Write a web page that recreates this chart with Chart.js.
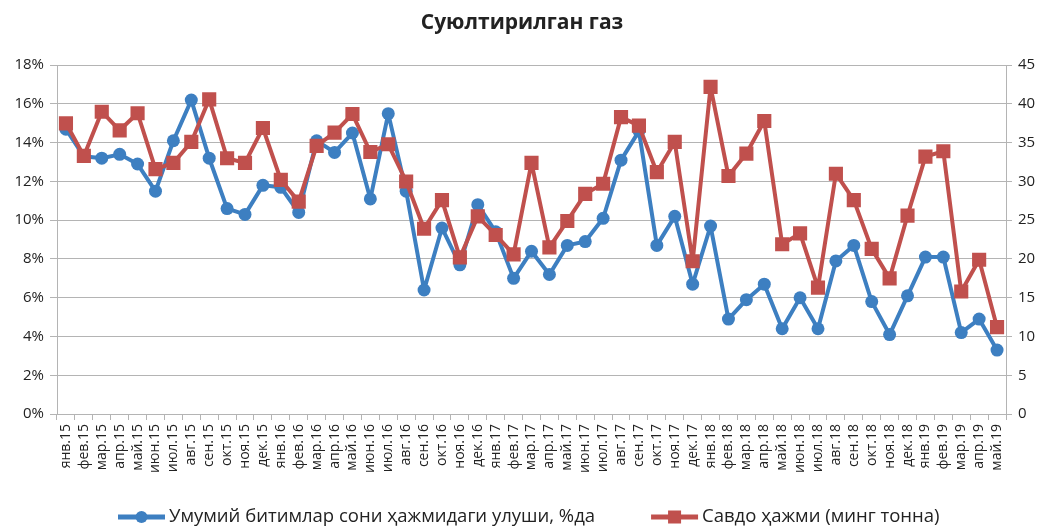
<!DOCTYPE html>
<html>
<head>
<meta charset="utf-8">
<script src="https://cdn.jsdelivr.net/npm/chart.js@4/dist/chart.umd.min.js"></script>
<style>
  html, body { margin: 0; padding: 0; background: #fff; }
  #wrap { width: 1044px; height: 526px; }
</style>
</head>
<body>
<div id="wrap"><canvas id="chartGas"></canvas></div>
<script>
const months = [
  "янв.15", "фев.15", "мар.15", "апр.15", "май.15", "июн.15", "июл.15", "авг.15", "сен.15", "окт.15", "ноя.15", "дек.15",
  "янв.16", "фев.16", "мар.16", "апр.16", "май.16", "июн.16", "июл.16", "авг.16", "сен.16", "окт.16", "ноя.16", "дек.16",
  "янв.17", "фев.17", "мар.17", "апр.17", "май.17", "июн.17", "июл.17", "авг.17", "сен.17", "окт.17", "ноя.17", "дек.17",
  "янв.18", "фев.18", "мар.18", "апр.18", "май.18", "июн.18", "июл.18", "авг.18", "сен.18", "окт.18", "ноя.18", "дек.18",
  "янв.19", "фев.19", "мар.19", "апр.19", "май.19"
];

// share of total deals, % (left axis)
const shareValues = [
  14.7, 13.3, 13.2, 13.4, 12.9, 11.5, 14.1, 16.2, 13.2, 10.6, 10.3, 11.8,
  11.7, 10.4, 14.1, 13.5, 14.5, 11.1, 15.5, 11.5, 6.4, 9.6, 7.7, 10.8,
  9.4, 7.0, 8.4, 7.2, 8.7, 8.9, 10.1, 13.1, 14.6, 8.7, 10.2, 6.7,
  9.7, 4.9, 5.9, 6.7, 4.4, 6.0, 4.4, 7.9, 8.7, 5.8, 4.1, 6.1,
  8.1, 8.1, 4.2, 4.9, 3.3
];

// trade volume, thousand tonnes (right axis)
const volumeValues = [
  37.5, 33.3, 39.0, 36.6, 38.8, 31.6, 32.4, 35.1, 40.6, 33.0, 32.4, 36.9,
  30.2, 27.4, 34.6, 36.3, 38.7, 33.8, 34.8, 30.0, 23.9, 27.6, 20.2, 25.5,
  23.1, 20.6, 32.4, 21.5, 24.9, 28.4, 29.7, 38.3, 37.2, 31.2, 35.1, 19.7,
  42.2, 30.7, 33.6, 37.8, 21.9, 23.3, 16.3, 31.0, 27.6, 21.3, 17.5, 25.6,
  33.2, 33.9, 15.8, 19.9, 11.2
];

const leftTicks = [0, 2, 4, 6, 8, 10, 12, 14, 16, 18];
const rightTicks = [0, 5, 10, 15, 20, 25, 30, 35, 40, 45];

const blue = "#3d7fc1";
const red = "#c0504d";
const gridGray = "#b4b4b4";
const textColor = "#222";
const font = "'Open Sans', 'Liberation Sans', sans-serif";

// Excel style legend: a short line with the marker in the middle, then the label
const excelLegend = {
  id: "excelLegend",
  afterDraw(chart) {
    const ctx = chart.ctx;
    const y = 517;
    let x = 118;
    const lineLen = 47;
    ctx.save();
    ctx.font = "18.5px " + font;
    ctx.textBaseline = "middle";
    chart.data.datasets.forEach(function (ds, i) {
      ctx.strokeStyle = ds.borderColor;
      ctx.lineWidth = 5;
      ctx.beginPath();
      ctx.moveTo(x, y);
      ctx.lineTo(x + lineLen, y);
      ctx.stroke();
      ctx.fillStyle = ds.borderColor;
      const cx = x + lineLen / 2;
      if (ds.pointStyle === "circle") {
        ctx.beginPath();
        ctx.arc(cx, y, 6, 0, Math.PI * 2);
        ctx.fill();
      } else {
        ctx.fillRect(cx - 6.5, y - 6.5, 13, 13);
      }
      ctx.fillStyle = textColor;
      ctx.fillText(ds.label, x + lineLen + 4, y);
      x += lineLen + 4 + ctx.measureText(ds.label).width + 56;
    });
    ctx.restore();
  }
};

const dataGas = {
  labels: months,
  datasets: [
    {
      label: "Умумий битимлар сони ҳажмидаги улуши, %да",
      data: shareValues,
      yAxisID: "yLeft",
      borderColor: blue,
      backgroundColor: blue,
      borderWidth: 4,
      borderJoinStyle: "round",
      pointStyle: "circle",
      pointRadius: 6.5,
      pointHoverRadius: 6.5,
      pointBorderWidth: 0,
      tension: 0,
      order: 1
    },
    {
      label: "Савдо ҳажми (минг тонна)",
      data: volumeValues,
      yAxisID: "yRight",
      borderColor: red,
      backgroundColor: red,
      borderWidth: 4,
      borderJoinStyle: "round",
      pointStyle: "rect",
      pointRadius: 10,
      pointHoverRadius: 10,
      pointBorderWidth: 0,
      tension: 0,
      order: 0
    }
  ]
};

const configGas = {
  type: "line",
  data: dataGas,
  plugins: [excelLegend],
  options: {
    responsive: true,
    maintainAspectRatio: false,
    animation: false,
    layout: { padding: { left: 0, right: 0, top: 0, bottom: 32 } },
    plugins: {
      title: {
        display: true,
        text: "Суюлтирилган газ",
        color: textColor,
        font: { family: font, size: 21, weight: "bold" },
        padding: { top: 10, bottom: 30 }
      },
      legend: { display: false },
      tooltip: { enabled: false }
    },
    scales: {
      x: {
        offset: true,
        afterFit: function (axis) { axis.height = 80; },
        grid: {
          display: true,
          offset: true,
          drawOnChartArea: false,
          color: gridGray,
          tickLength: 6
        },
        border: { color: gridGray, width: 1 },
        ticks: {
          color: textColor,
          font: { family: font, size: 14 },
          minRotation: 90,
          maxRotation: 90,
          autoSkip: false,
          padding: 4
        }
      },
      yLeft: {
        position: "left",
        min: 0,
        max: 18,
        afterFit: function (axis) { axis.width = 57; },
        afterBuildTicks: function (axis) {
          axis.ticks = leftTicks.map(function (v) { return { value: v }; });
        },
        grid: { color: gridGray, lineWidth: 1, tickLength: 7 },
        border: { color: gridGray, width: 1 },
        ticks: {
          color: textColor,
          font: { family: font, size: 15 },
          padding: 6,
          callback: function (v) { return v + "%"; }
        }
      },
      yRight: {
        position: "right",
        min: 0,
        max: 45,
        afterFit: function (axis) { axis.width = 38; },
        afterBuildTicks: function (axis) {
          axis.ticks = rightTicks.map(function (v) { return { value: v }; });
        },
        grid: { drawOnChartArea: false, color: gridGray, tickLength: 6 },
        border: { color: gridGray, width: 1 },
        ticks: {
          color: textColor,
          font: { family: font, size: 15 },
          padding: 6
        }
      }
    }
  }
};

var chartGas = new Chart(document.getElementById("chartGas"), configGas);
</script>
</body>
</html>
